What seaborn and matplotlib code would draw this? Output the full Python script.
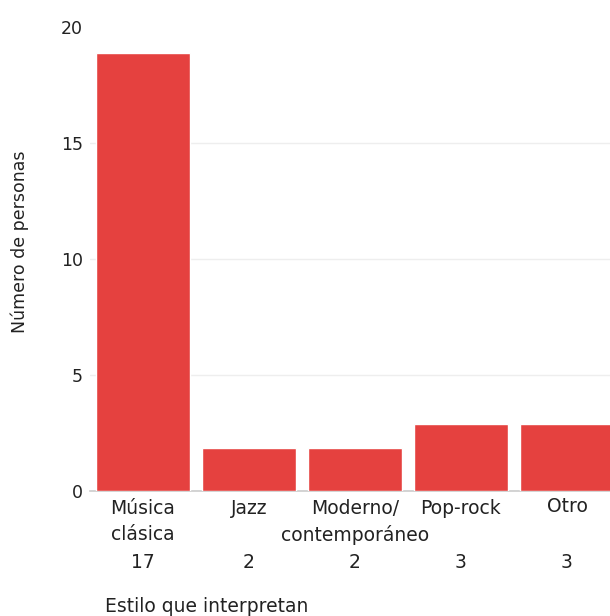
import matplotlib
matplotlib.use("Agg")
import matplotlib.pyplot as plt
import matplotlib.transforms as mtransforms
import seaborn as sns
import pandas as pd

categorias = ["Música clásica", "Jazz", "Moderno/ contemporáneo", "Pop-rock", "Otro"]
lineas_1 = ["Música", "Jazz", "Moderno/", "Pop-rock", "Otro"]
lineas_2 = ["clásica", "", "contemporáneo", "", ""]
valores = [18.9, 1.85, 1.85, 2.9, 2.9]
conteos = ["17", "2", "2", "3", "3"]
yticks = [0, 5, 10, 15, 20]

sns.set_theme(style="white")
plt.rcParams["font.family"] = ["DejaVu Sans"]
FS = 13.5
FS2 = 12.5
TC = "#222222"

df = pd.DataFrame({"cat": categorias, "val": valores})

fig = plt.figure(figsize=(6.1, 6.16), dpi=100)
ax = fig.add_axes([90 / 610, 1 - 491 / 616, 530 / 610, 464 / 616])

sns.barplot(data=df, x="cat", y="val", color="#E5413F", saturation=1,
            width=0.88, ax=ax, zorder=3)

ax.set_ylim(0, 20)
ax.set_xlim(-0.5, 4.5)
ax.set_yticks(yticks)
ax.set_yticklabels([str(t) for t in yticks], fontsize=FS2, color=TC)
ax.grid(axis="y", color="#eeeeee", linewidth=1, zorder=0)
ax.get_ygridlines()[-1].set_visible(False)
ax.tick_params(axis="y", length=0, pad=5)
ax.tick_params(axis="x", length=0)
ax.set_xticks(range(len(categorias)))
ax.set_xticklabels([""] * len(categorias))
for s in ["top", "right", "left"]:
    ax.spines[s].set_visible(False)
ax.spines["bottom"].set_color("#cccccc")
ax.spines["bottom"].set_linewidth(1.2)
ax.set_xlabel("")
ax.set_ylabel("")

trans = mtransforms.blended_transform_factory(ax.transData, fig.transFigure)
for i in range(len(categorias)):
    y1 = 506 if lineas_1[i] == "Otro" else 508
    ax.text(i, 1 - y1 / 616, lineas_1[i], transform=trans, ha="center",
            va="center", fontsize=FS, color=TC)
    if lineas_2[i]:
        ax.text(i, 1 - 535 / 616, lineas_2[i], transform=trans, ha="center",
                va="center", fontsize=FS, color=TC)
    ax.text(i, 1 - 563 / 616, conteos[i], transform=trans, ha="center",
            va="center", fontsize=FS, color=TC)

fig.text(20 / 610, 1 - 242 / 616, "Número de personas", rotation=90,
         ha="center", va="center", fontsize=FS2, color=TC)
fig.text(105 / 610, 1 - 606 / 616, "Estilo que interpretan",
         ha="left", va="center", fontsize=FS, color=TC)

fig.savefig("out.png", dpi=100)
